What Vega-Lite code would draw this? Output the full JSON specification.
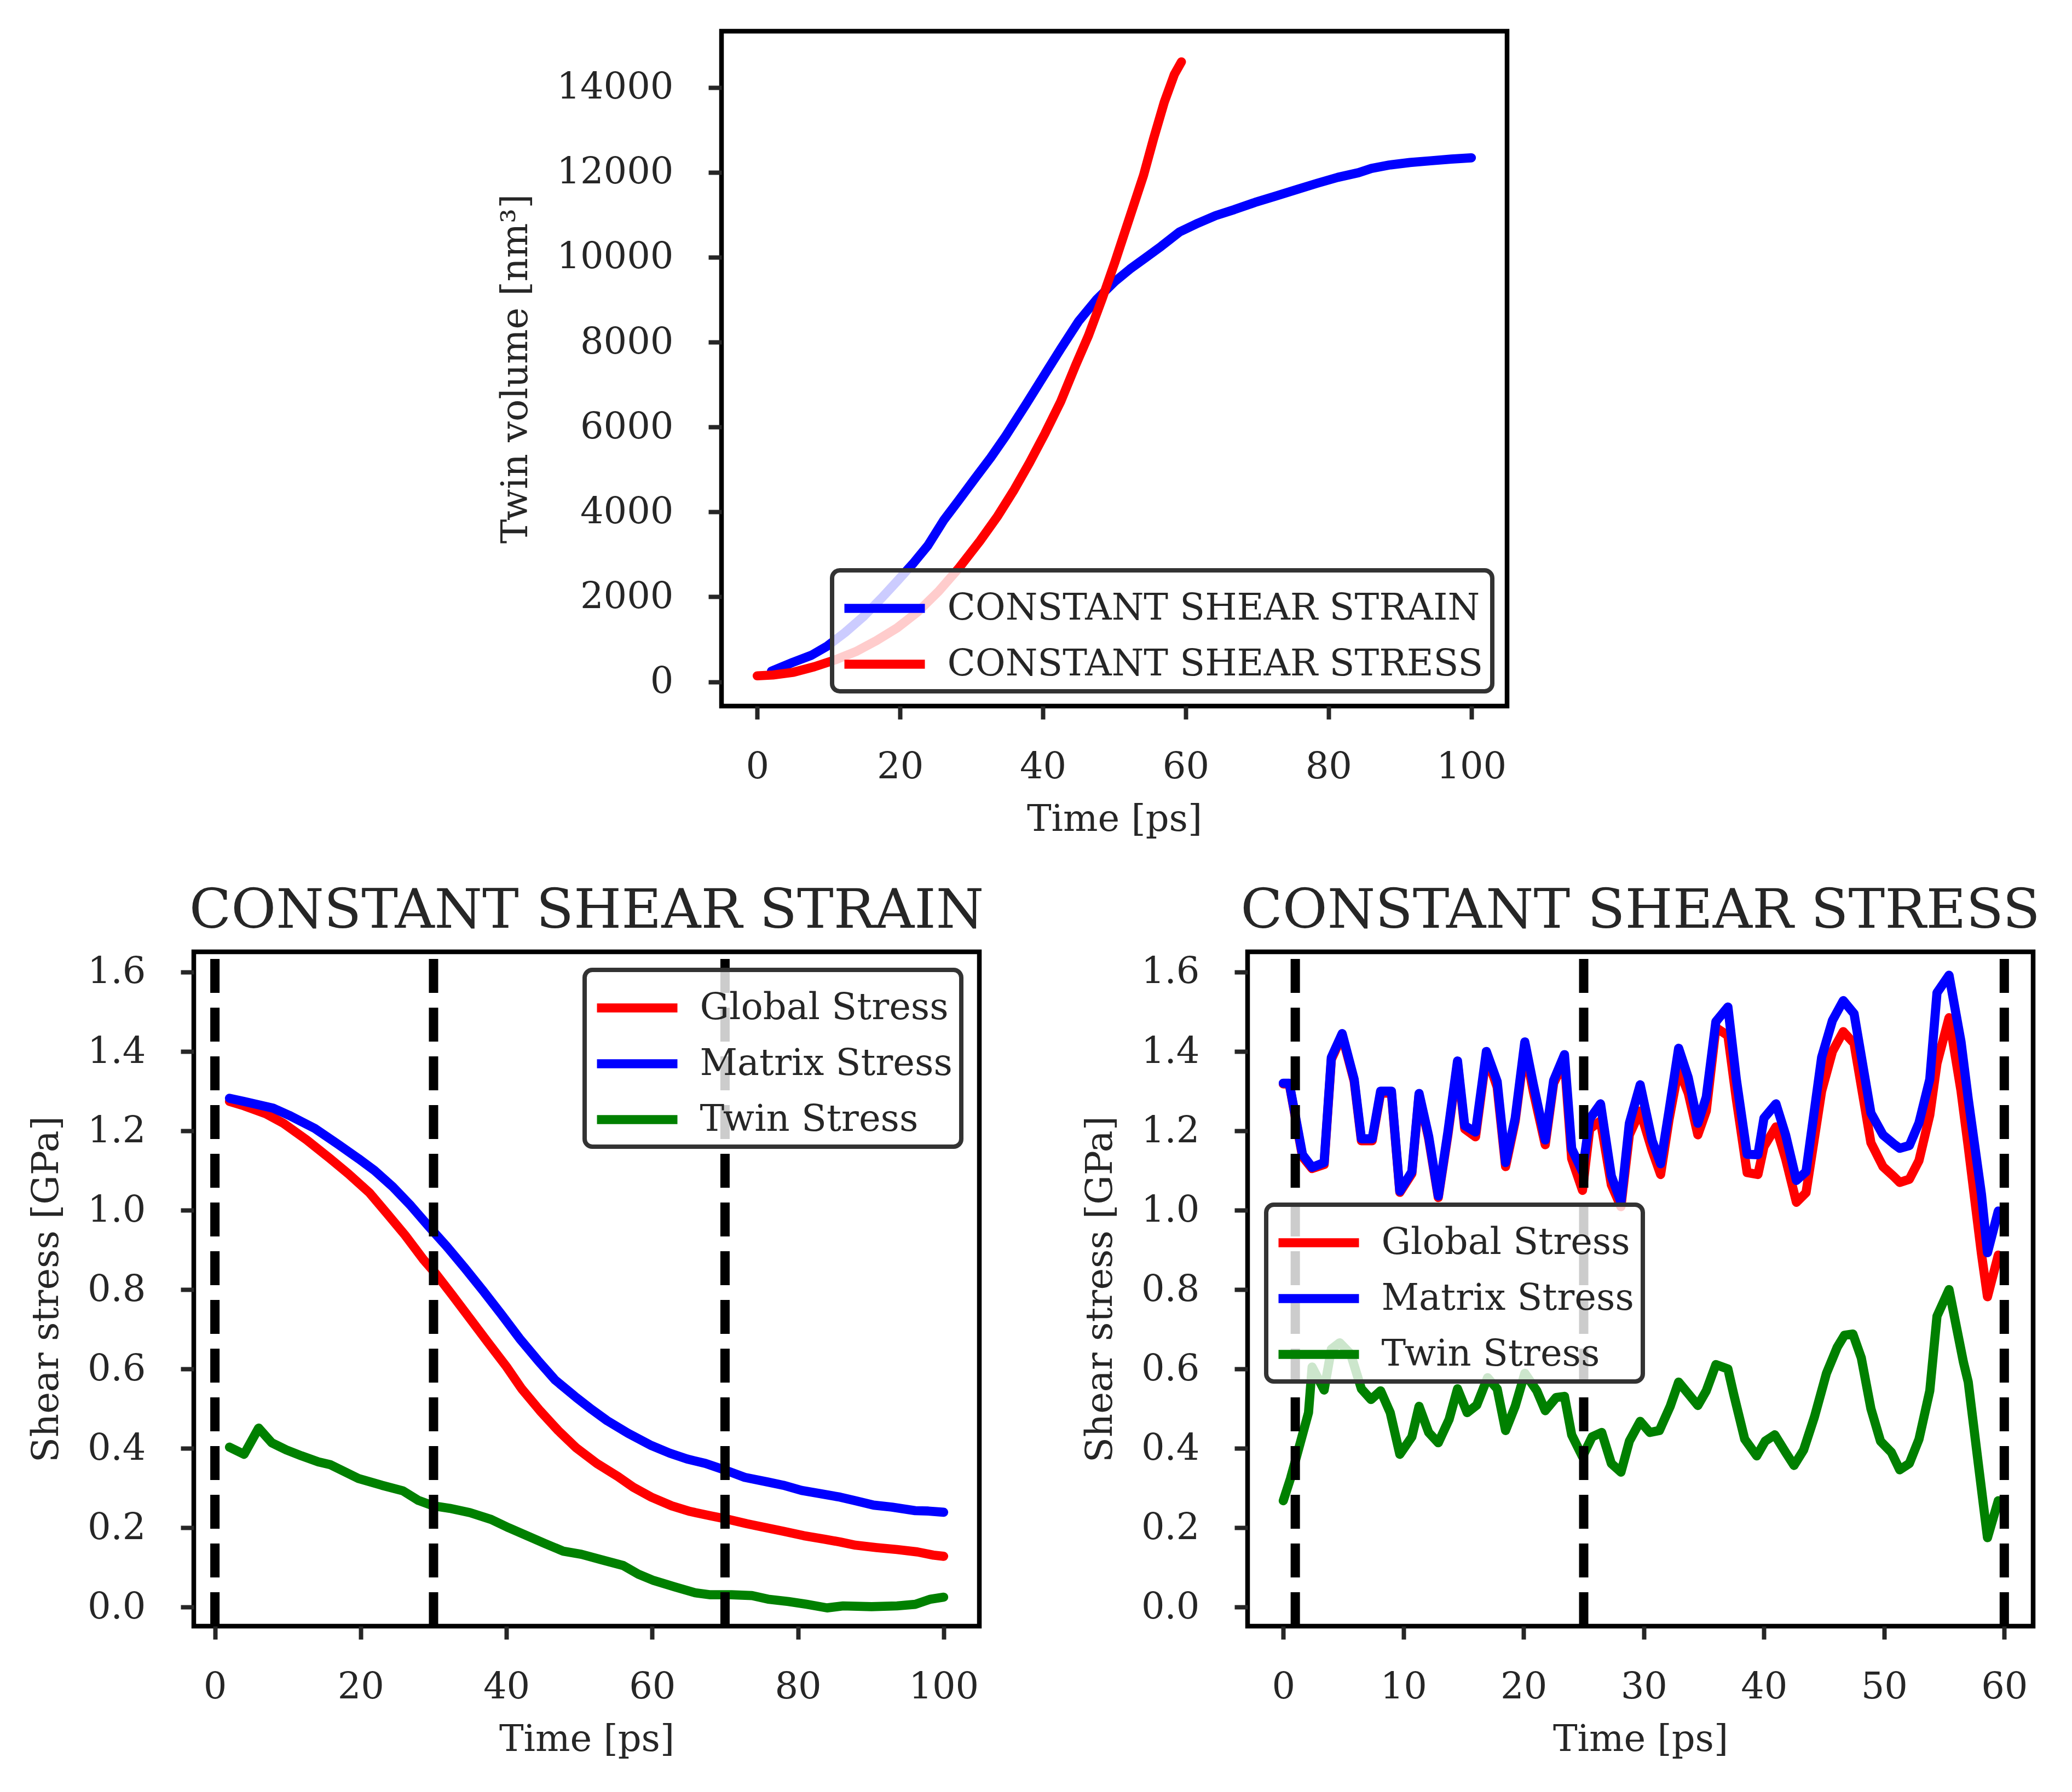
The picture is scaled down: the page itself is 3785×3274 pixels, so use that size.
{
  "$schema": "https://vega.github.io/schema/vega-lite/v6.json",
  "background": "white",
  "padding": {"left": 47, "top": 52, "right": 10, "bottom": 10},
  "config": {
    "font": "DejaVu Serif",
    "view": {"stroke": "black", "strokeWidth": 8.5},
    "axis": {
      "domain": false, "grid": false, "ticks": true,
      "tickSize": 24, "tickWidth": 8, "tickColor": "#262626",
      "labelFont": "DejaVu Serif", "labelFontSize": 67, "labelColor": "#262626", "labelLimit": 1000,
      "titleFont": "DejaVu Serif", "titleFontSize": 67, "titleFontWeight": "normal", "titleColor": "#262626",
      "labelFlush": false, "labelOverlap": false, "labelBound": false, "maxExtent": 2000, "minExtent": 0
    },
    "axisX": {"labelPadding": 54, "titlePadding": 30},
    "axisY": {"labelPadding": 64, "titlePadding": 40},
    "title": {"font": "DejaVu Serif", "fontSize": 100, "fontWeight": "normal", "color": "#262626", "baseline": "alphabetic", "offset": 15, "anchor": "middle"},
    "legend": {
      "labelFont": "DejaVu Serif", "labelFontSize": 67, "labelColor": "#262626", "labelLimit": 3000,
      "symbolType": "M-1.633,0H1.633", "symbolSize": 8100, "symbolStrokeWidth": 16.7, "symbolOffset": 26.5,
      "labelOffset": 61, "rowPadding": 15, "padding": 16,
      "strokeColor": "#333333", "strokeWidth": 8, "cornerRadius": 14, "fillColor": "rgba(255,255,255,0.8)"
    }
  },
  "datasets": {
    "top": [
      {"t":2,"v":250,"s":"CONSTANT SHEAR STRAIN"},{"t":5,"v":460,"s":"CONSTANT SHEAR STRAIN"},{"t":7.6,"v":625,"s":"CONSTANT SHEAR STRAIN"},{"t":9.8,"v":840,"s":"CONSTANT SHEAR STRAIN"},{"t":12.3,"v":1160,"s":"CONSTANT SHEAR STRAIN"},{"t":14.9,"v":1540,"s":"CONSTANT SHEAR STRAIN"},{"t":17.4,"v":1970,"s":"CONSTANT SHEAR STRAIN"},{"t":19.6,"v":2370,"s":"CONSTANT SHEAR STRAIN"},{"t":21.8,"v":2780,"s":"CONSTANT SHEAR STRAIN"},{"t":23.9,"v":3210,"s":"CONSTANT SHEAR STRAIN"},{"t":26.1,"v":3800,"s":"CONSTANT SHEAR STRAIN"},{"t":28.3,"v":4290,"s":"CONSTANT SHEAR STRAIN"},{"t":30.5,"v":4790,"s":"CONSTANT SHEAR STRAIN"},{"t":32.7,"v":5280,"s":"CONSTANT SHEAR STRAIN"},{"t":34.8,"v":5790,"s":"CONSTANT SHEAR STRAIN"},{"t":37.7,"v":6550,"s":"CONSTANT SHEAR STRAIN"},{"t":40.3,"v":7250,"s":"CONSTANT SHEAR STRAIN"},{"t":42.5,"v":7840,"s":"CONSTANT SHEAR STRAIN"},{"t":45,"v":8490,"s":"CONSTANT SHEAR STRAIN"},{"t":47.5,"v":9000,"s":"CONSTANT SHEAR STRAIN"},{"t":50.1,"v":9430,"s":"CONSTANT SHEAR STRAIN"},{"t":52.2,"v":9720,"s":"CONSTANT SHEAR STRAIN"},{"t":54.4,"v":9990,"s":"CONSTANT SHEAR STRAIN"},{"t":56.6,"v":10260,"s":"CONSTANT SHEAR STRAIN"},{"t":59.1,"v":10590,"s":"CONSTANT SHEAR STRAIN"},{"t":61.7,"v":10800,"s":"CONSTANT SHEAR STRAIN"},{"t":64.2,"v":10980,"s":"CONSTANT SHEAR STRAIN"},{"t":66.8,"v":11120,"s":"CONSTANT SHEAR STRAIN"},{"t":69.7,"v":11290,"s":"CONSTANT SHEAR STRAIN"},{"t":72.6,"v":11440,"s":"CONSTANT SHEAR STRAIN"},{"t":75.5,"v":11590,"s":"CONSTANT SHEAR STRAIN"},{"t":78.4,"v":11740,"s":"CONSTANT SHEAR STRAIN"},{"t":81.3,"v":11880,"s":"CONSTANT SHEAR STRAIN"},{"t":84.2,"v":11990,"s":"CONSTANT SHEAR STRAIN"},{"t":86,"v":12090,"s":"CONSTANT SHEAR STRAIN"},{"t":88.5,"v":12170,"s":"CONSTANT SHEAR STRAIN"},{"t":91.4,"v":12230,"s":"CONSTANT SHEAR STRAIN"},{"t":94.3,"v":12270,"s":"CONSTANT SHEAR STRAIN"},{"t":97.2,"v":12310,"s":"CONSTANT SHEAR STRAIN"},{"t":100,"v":12340,"s":"CONSTANT SHEAR STRAIN"},
      {"t":0,"v":140,"s":"CONSTANT SHEAR STRESS"},{"t":2.2,"v":160,"s":"CONSTANT SHEAR STRESS"},{"t":5.1,"v":225,"s":"CONSTANT SHEAR STRESS"},{"t":8,"v":355,"s":"CONSTANT SHEAR STRESS"},{"t":10.9,"v":515,"s":"CONSTANT SHEAR STRESS"},{"t":13.8,"v":710,"s":"CONSTANT SHEAR STRESS"},{"t":16.7,"v":970,"s":"CONSTANT SHEAR STRESS"},{"t":19.6,"v":1270,"s":"CONSTANT SHEAR STRESS"},{"t":22.5,"v":1650,"s":"CONSTANT SHEAR STRESS"},{"t":25.4,"v":2130,"s":"CONSTANT SHEAR STRESS"},{"t":28.3,"v":2690,"s":"CONSTANT SHEAR STRESS"},{"t":31.2,"v":3320,"s":"CONSTANT SHEAR STRESS"},{"t":33.7,"v":3910,"s":"CONSTANT SHEAR STRESS"},{"t":35.9,"v":4500,"s":"CONSTANT SHEAR STRESS"},{"t":38.1,"v":5150,"s":"CONSTANT SHEAR STRESS"},{"t":40.3,"v":5850,"s":"CONSTANT SHEAR STRESS"},{"t":42.5,"v":6600,"s":"CONSTANT SHEAR STRESS"},{"t":44.6,"v":7460,"s":"CONSTANT SHEAR STRESS"},{"t":46.4,"v":8160,"s":"CONSTANT SHEAR STRESS"},{"t":48.3,"v":9020,"s":"CONSTANT SHEAR STRESS"},{"t":50.1,"v":9890,"s":"CONSTANT SHEAR STRESS"},{"t":52.2,"v":10960,"s":"CONSTANT SHEAR STRESS"},{"t":54.1,"v":11930,"s":"CONSTANT SHEAR STRESS"},{"t":55.5,"v":12790,"s":"CONSTANT SHEAR STRESS"},{"t":57,"v":13650,"s":"CONSTANT SHEAR STRESS"},{"t":58.4,"v":14300,"s":"CONSTANT SHEAR STRESS"},{"t":59.4,"v":14600,"s":"CONSTANT SHEAR STRESS"}
    ],
    "left": [
      {"t":2,"v":1.274,"s":"Global Stress"},{"t":4,"v":1.263,"s":"Global Stress"},{"t":7,"v":1.243,"s":"Global Stress"},{"t":9.4,"v":1.219,"s":"Global Stress"},{"t":12.6,"v":1.177,"s":"Global Stress"},{"t":15.8,"v":1.13,"s":"Global Stress"},{"t":18.3,"v":1.092,"s":"Global Stress"},{"t":21.2,"v":1.044,"s":"Global Stress"},{"t":23.6,"v":0.992,"s":"Global Stress"},{"t":26.1,"v":0.937,"s":"Global Stress"},{"t":28.6,"v":0.876,"s":"Global Stress"},{"t":30.4,"v":0.838,"s":"Global Stress"},{"t":32.5,"v":0.788,"s":"Global Stress"},{"t":35,"v":0.727,"s":"Global Stress"},{"t":37.5,"v":0.666,"s":"Global Stress"},{"t":40,"v":0.606,"s":"Global Stress"},{"t":42.1,"v":0.55,"s":"Global Stress"},{"t":44.6,"v":0.495,"s":"Global Stress"},{"t":47.1,"v":0.445,"s":"Global Stress"},{"t":49.6,"v":0.401,"s":"Global Stress"},{"t":52.4,"v":0.362,"s":"Global Stress"},{"t":55.3,"v":0.329,"s":"Global Stress"},{"t":57.4,"v":0.302,"s":"Global Stress"},{"t":59.9,"v":0.277,"s":"Global Stress"},{"t":62.7,"v":0.255,"s":"Global Stress"},{"t":65.2,"v":0.241,"s":"Global Stress"},{"t":68,"v":0.23,"s":"Global Stress"},{"t":70.2,"v":0.222,"s":"Global Stress"},{"t":73,"v":0.21,"s":"Global Stress"},{"t":75.9,"v":0.199,"s":"Global Stress"},{"t":78,"v":0.191,"s":"Global Stress"},{"t":80.8,"v":0.18,"s":"Global Stress"},{"t":83.7,"v":0.171,"s":"Global Stress"},{"t":85.8,"v":0.164,"s":"Global Stress"},{"t":87.9,"v":0.156,"s":"Global Stress"},{"t":90.8,"v":0.15,"s":"Global Stress"},{"t":93.6,"v":0.145,"s":"Global Stress"},{"t":96.4,"v":0.139,"s":"Global Stress"},{"t":98.6,"v":0.131,"s":"Global Stress"},{"t":100,"v":0.128,"s":"Global Stress"},
      {"t":2,"v":1.282,"s":"Matrix Stress"},{"t":4,"v":1.274,"s":"Matrix Stress"},{"t":8,"v":1.257,"s":"Matrix Stress"},{"t":10.2,"v":1.239,"s":"Matrix Stress"},{"t":13.7,"v":1.206,"s":"Matrix Stress"},{"t":16.9,"v":1.166,"s":"Matrix Stress"},{"t":19.7,"v":1.13,"s":"Matrix Stress"},{"t":21.9,"v":1.1,"s":"Matrix Stress"},{"t":24.4,"v":1.059,"s":"Matrix Stress"},{"t":26.9,"v":1.011,"s":"Matrix Stress"},{"t":29.3,"v":0.96,"s":"Matrix Stress"},{"t":31.8,"v":0.909,"s":"Matrix Stress"},{"t":34.3,"v":0.854,"s":"Matrix Stress"},{"t":36.8,"v":0.797,"s":"Matrix Stress"},{"t":39.3,"v":0.738,"s":"Matrix Stress"},{"t":41.8,"v":0.677,"s":"Matrix Stress"},{"t":44.3,"v":0.622,"s":"Matrix Stress"},{"t":46.7,"v":0.572,"s":"Matrix Stress"},{"t":49.6,"v":0.528,"s":"Matrix Stress"},{"t":51.7,"v":0.498,"s":"Matrix Stress"},{"t":53.8,"v":0.47,"s":"Matrix Stress"},{"t":56.7,"v":0.438,"s":"Matrix Stress"},{"t":59.9,"v":0.407,"s":"Matrix Stress"},{"t":62.4,"v":0.388,"s":"Matrix Stress"},{"t":64.8,"v":0.373,"s":"Matrix Stress"},{"t":67.3,"v":0.362,"s":"Matrix Stress"},{"t":70.2,"v":0.344,"s":"Matrix Stress"},{"t":72.7,"v":0.327,"s":"Matrix Stress"},{"t":75.9,"v":0.315,"s":"Matrix Stress"},{"t":78,"v":0.307,"s":"Matrix Stress"},{"t":80.5,"v":0.294,"s":"Matrix Stress"},{"t":83,"v":0.286,"s":"Matrix Stress"},{"t":85.8,"v":0.277,"s":"Matrix Stress"},{"t":87.9,"v":0.268,"s":"Matrix Stress"},{"t":90.4,"v":0.257,"s":"Matrix Stress"},{"t":92.9,"v":0.252,"s":"Matrix Stress"},{"t":96.1,"v":0.243,"s":"Matrix Stress"},{"t":97.9,"v":0.242,"s":"Matrix Stress"},{"t":100,"v":0.239,"s":"Matrix Stress"},
      {"t":2,"v":0.403,"s":"Twin Stress"},{"t":4,"v":0.385,"s":"Twin Stress"},{"t":6,"v":0.451,"s":"Twin Stress"},{"t":7.8,"v":0.414,"s":"Twin Stress"},{"t":9.8,"v":0.396,"s":"Twin Stress"},{"t":11.9,"v":0.381,"s":"Twin Stress"},{"t":14.2,"v":0.366,"s":"Twin Stress"},{"t":15.8,"v":0.359,"s":"Twin Stress"},{"t":19.7,"v":0.324,"s":"Twin Stress"},{"t":22.9,"v":0.307,"s":"Twin Stress"},{"t":25.8,"v":0.293,"s":"Twin Stress"},{"t":27.9,"v":0.269,"s":"Twin Stress"},{"t":30,"v":0.255,"s":"Twin Stress"},{"t":32.2,"v":0.249,"s":"Twin Stress"},{"t":35,"v":0.238,"s":"Twin Stress"},{"t":37.9,"v":0.221,"s":"Twin Stress"},{"t":40.3,"v":0.2,"s":"Twin Stress"},{"t":42.8,"v":0.18,"s":"Twin Stress"},{"t":45.3,"v":0.16,"s":"Twin Stress"},{"t":47.8,"v":0.141,"s":"Twin Stress"},{"t":50.3,"v":0.133,"s":"Twin Stress"},{"t":53.1,"v":0.119,"s":"Twin Stress"},{"t":56,"v":0.105,"s":"Twin Stress"},{"t":58.1,"v":0.083,"s":"Twin Stress"},{"t":60.2,"v":0.067,"s":"Twin Stress"},{"t":63.1,"v":0.051,"s":"Twin Stress"},{"t":65.9,"v":0.036,"s":"Twin Stress"},{"t":68,"v":0.031,"s":"Twin Stress"},{"t":70.9,"v":0.031,"s":"Twin Stress"},{"t":73.7,"v":0.029,"s":"Twin Stress"},{"t":75.9,"v":0.02,"s":"Twin Stress"},{"t":78.7,"v":0.014,"s":"Twin Stress"},{"t":81.2,"v":0.007,"s":"Twin Stress"},{"t":84,"v":-0.002,"s":"Twin Stress"},{"t":86.2,"v":0.003,"s":"Twin Stress"},{"t":90.1,"v":0.001,"s":"Twin Stress"},{"t":93.6,"v":0.003,"s":"Twin Stress"},{"t":96.1,"v":0.007,"s":"Twin Stress"},{"t":98.2,"v":0.02,"s":"Twin Stress"},{"t":100,"v":0.025,"s":"Twin Stress"}
    ],
    "right": [
      {"t":0,"v":1.318,"s":"Global Stress"},{"t":0.5,"v":1.318,"s":"Global Stress"},{"t":1.6,"v":1.135,"s":"Global Stress"},{"t":2.4,"v":1.105,"s":"Global Stress"},{"t":3.4,"v":1.115,"s":"Global Stress"},{"t":4.0,"v":1.38,"s":"Global Stress"},{"t":4.9,"v":1.44,"s":"Global Stress"},{"t":5.9,"v":1.325,"s":"Global Stress"},{"t":6.5,"v":1.175,"s":"Global Stress"},{"t":7.4,"v":1.175,"s":"Global Stress"},{"t":8.1,"v":1.295,"s":"Global Stress"},{"t":9.0,"v":1.295,"s":"Global Stress"},{"t":9.7,"v":1.045,"s":"Global Stress"},{"t":10.7,"v":1.092,"s":"Global Stress"},{"t":11.3,"v":1.29,"s":"Global Stress"},{"t":12.1,"v":1.18,"s":"Global Stress"},{"t":12.9,"v":1.032,"s":"Global Stress"},{"t":13.7,"v":1.19,"s":"Global Stress"},{"t":14.5,"v":1.37,"s":"Global Stress"},{"t":15.1,"v":1.205,"s":"Global Stress"},{"t":16.0,"v":1.185,"s":"Global Stress"},{"t":16.9,"v":1.39,"s":"Global Stress"},{"t":17.8,"v":1.31,"s":"Global Stress"},{"t":18.5,"v":1.11,"s":"Global Stress"},{"t":19.3,"v":1.225,"s":"Global Stress"},{"t":20.1,"v":1.41,"s":"Global Stress"},{"t":20.8,"v":1.3,"s":"Global Stress"},{"t":21.8,"v":1.165,"s":"Global Stress"},{"t":22.5,"v":1.32,"s":"Global Stress"},{"t":23.4,"v":1.375,"s":"Global Stress"},{"t":24.0,"v":1.13,"s":"Global Stress"},{"t":24.9,"v":1.05,"s":"Global Stress"},{"t":25.5,"v":1.205,"s":"Global Stress"},{"t":26.4,"v":1.225,"s":"Global Stress"},{"t":27.3,"v":1.064,"s":"Global Stress"},{"t":28.1,"v":1.009,"s":"Global Stress"},{"t":28.8,"v":1.19,"s":"Global Stress"},{"t":29.7,"v":1.25,"s":"Global Stress"},{"t":30.7,"v":1.15,"s":"Global Stress"},{"t":31.4,"v":1.09,"s":"Global Stress"},{"t":32.1,"v":1.228,"s":"Global Stress"},{"t":32.9,"v":1.357,"s":"Global Stress"},{"t":33.7,"v":1.295,"s":"Global Stress"},{"t":34.5,"v":1.19,"s":"Global Stress"},{"t":35.2,"v":1.25,"s":"Global Stress"},{"t":36.0,"v":1.46,"s":"Global Stress"},{"t":37.0,"v":1.44,"s":"Global Stress"},{"t":37.7,"v":1.28,"s":"Global Stress"},{"t":38.6,"v":1.095,"s":"Global Stress"},{"t":39.5,"v":1.09,"s":"Global Stress"},{"t":40.0,"v":1.16,"s":"Global Stress"},{"t":41.0,"v":1.21,"s":"Global Stress"},{"t":41.8,"v":1.13,"s":"Global Stress"},{"t":42.7,"v":1.02,"s":"Global Stress"},{"t":43.5,"v":1.044,"s":"Global Stress"},{"t":44.8,"v":1.3,"s":"Global Stress"},{"t":45.7,"v":1.4,"s":"Global Stress"},{"t":46.6,"v":1.45,"s":"Global Stress"},{"t":47.5,"v":1.42,"s":"Global Stress"},{"t":48.9,"v":1.17,"s":"Global Stress"},{"t":49.9,"v":1.11,"s":"Global Stress"},{"t":50.8,"v":1.085,"s":"Global Stress"},{"t":51.3,"v":1.07,"s":"Global Stress"},{"t":52.1,"v":1.078,"s":"Global Stress"},{"t":52.9,"v":1.125,"s":"Global Stress"},{"t":53.8,"v":1.24,"s":"Global Stress"},{"t":54.4,"v":1.37,"s":"Global Stress"},{"t":55.4,"v":1.485,"s":"Global Stress"},{"t":56.4,"v":1.3,"s":"Global Stress"},{"t":57.0,"v":1.16,"s":"Global Stress"},{"t":58.1,"v":0.89,"s":"Global Stress"},{"t":58.6,"v":0.782,"s":"Global Stress"},{"t":59.5,"v":0.887,"s":"Global Stress"},
      {"t":0,"v":1.32,"s":"Matrix Stress"},{"t":0.5,"v":1.32,"s":"Matrix Stress"},{"t":1.6,"v":1.14,"s":"Matrix Stress"},{"t":2.4,"v":1.108,"s":"Matrix Stress"},{"t":3.4,"v":1.12,"s":"Matrix Stress"},{"t":4.0,"v":1.385,"s":"Matrix Stress"},{"t":4.9,"v":1.445,"s":"Matrix Stress"},{"t":5.9,"v":1.33,"s":"Matrix Stress"},{"t":6.5,"v":1.18,"s":"Matrix Stress"},{"t":7.4,"v":1.18,"s":"Matrix Stress"},{"t":8.1,"v":1.3,"s":"Matrix Stress"},{"t":9.0,"v":1.3,"s":"Matrix Stress"},{"t":9.7,"v":1.048,"s":"Matrix Stress"},{"t":10.7,"v":1.097,"s":"Matrix Stress"},{"t":11.3,"v":1.294,"s":"Matrix Stress"},{"t":12.1,"v":1.186,"s":"Matrix Stress"},{"t":12.9,"v":1.036,"s":"Matrix Stress"},{"t":13.7,"v":1.197,"s":"Matrix Stress"},{"t":14.5,"v":1.376,"s":"Matrix Stress"},{"t":15.1,"v":1.213,"s":"Matrix Stress"},{"t":16.0,"v":1.197,"s":"Matrix Stress"},{"t":16.9,"v":1.4,"s":"Matrix Stress"},{"t":17.8,"v":1.324,"s":"Matrix Stress"},{"t":18.5,"v":1.12,"s":"Matrix Stress"},{"t":19.3,"v":1.232,"s":"Matrix Stress"},{"t":20.1,"v":1.424,"s":"Matrix Stress"},{"t":20.8,"v":1.318,"s":"Matrix Stress"},{"t":21.8,"v":1.177,"s":"Matrix Stress"},{"t":22.5,"v":1.327,"s":"Matrix Stress"},{"t":23.4,"v":1.392,"s":"Matrix Stress"},{"t":24.0,"v":1.155,"s":"Matrix Stress"},{"t":24.9,"v":1.097,"s":"Matrix Stress"},{"t":25.5,"v":1.23,"s":"Matrix Stress"},{"t":26.4,"v":1.268,"s":"Matrix Stress"},{"t":27.3,"v":1.086,"s":"Matrix Stress"},{"t":28.1,"v":1.02,"s":"Matrix Stress"},{"t":28.8,"v":1.219,"s":"Matrix Stress"},{"t":29.7,"v":1.316,"s":"Matrix Stress"},{"t":30.7,"v":1.175,"s":"Matrix Stress"},{"t":31.4,"v":1.117,"s":"Matrix Stress"},{"t":32.1,"v":1.25,"s":"Matrix Stress"},{"t":32.9,"v":1.408,"s":"Matrix Stress"},{"t":33.7,"v":1.334,"s":"Matrix Stress"},{"t":34.5,"v":1.219,"s":"Matrix Stress"},{"t":35.2,"v":1.285,"s":"Matrix Stress"},{"t":36.0,"v":1.475,"s":"Matrix Stress"},{"t":37.0,"v":1.512,"s":"Matrix Stress"},{"t":37.7,"v":1.33,"s":"Matrix Stress"},{"t":38.6,"v":1.141,"s":"Matrix Stress"},{"t":39.5,"v":1.14,"s":"Matrix Stress"},{"t":40.0,"v":1.232,"s":"Matrix Stress"},{"t":41.0,"v":1.268,"s":"Matrix Stress"},{"t":41.8,"v":1.19,"s":"Matrix Stress"},{"t":42.7,"v":1.075,"s":"Matrix Stress"},{"t":43.5,"v":1.097,"s":"Matrix Stress"},{"t":44.8,"v":1.385,"s":"Matrix Stress"},{"t":45.7,"v":1.478,"s":"Matrix Stress"},{"t":46.6,"v":1.528,"s":"Matrix Stress"},{"t":47.5,"v":1.495,"s":"Matrix Stress"},{"t":48.9,"v":1.245,"s":"Matrix Stress"},{"t":49.9,"v":1.19,"s":"Matrix Stress"},{"t":50.8,"v":1.167,"s":"Matrix Stress"},{"t":51.3,"v":1.156,"s":"Matrix Stress"},{"t":52.1,"v":1.163,"s":"Matrix Stress"},{"t":52.9,"v":1.22,"s":"Matrix Stress"},{"t":53.8,"v":1.33,"s":"Matrix Stress"},{"t":54.4,"v":1.548,"s":"Matrix Stress"},{"t":55.4,"v":1.592,"s":"Matrix Stress"},{"t":56.4,"v":1.424,"s":"Matrix Stress"},{"t":57.0,"v":1.28,"s":"Matrix Stress"},{"t":58.1,"v":1.04,"s":"Matrix Stress"},{"t":58.6,"v":0.893,"s":"Matrix Stress"},{"t":59.5,"v":0.998,"s":"Matrix Stress"},
      {"t":0,"v":0.268,"s":"Twin Stress"},{"t":0.6,"v":0.324,"s":"Twin Stress"},{"t":1.2,"v":0.39,"s":"Twin Stress"},{"t":2.1,"v":0.49,"s":"Twin Stress"},{"t":2.4,"v":0.605,"s":"Twin Stress"},{"t":3.4,"v":0.547,"s":"Twin Stress"},{"t":4.0,"v":0.65,"s":"Twin Stress"},{"t":4.7,"v":0.666,"s":"Twin Stress"},{"t":5.6,"v":0.638,"s":"Twin Stress"},{"t":6.5,"v":0.55,"s":"Twin Stress"},{"t":7.3,"v":0.523,"s":"Twin Stress"},{"t":8.1,"v":0.545,"s":"Twin Stress"},{"t":8.9,"v":0.49,"s":"Twin Stress"},{"t":9.7,"v":0.385,"s":"Twin Stress"},{"t":10.7,"v":0.429,"s":"Twin Stress"},{"t":11.3,"v":0.506,"s":"Twin Stress"},{"t":12.1,"v":0.44,"s":"Twin Stress"},{"t":12.9,"v":0.414,"s":"Twin Stress"},{"t":13.8,"v":0.473,"s":"Twin Stress"},{"t":14.5,"v":0.55,"s":"Twin Stress"},{"t":15.3,"v":0.49,"s":"Twin Stress"},{"t":16.1,"v":0.509,"s":"Twin Stress"},{"t":17.0,"v":0.578,"s":"Twin Stress"},{"t":17.8,"v":0.55,"s":"Twin Stress"},{"t":18.5,"v":0.445,"s":"Twin Stress"},{"t":19.3,"v":0.506,"s":"Twin Stress"},{"t":20.1,"v":0.589,"s":"Twin Stress"},{"t":21.1,"v":0.545,"s":"Twin Stress"},{"t":21.8,"v":0.495,"s":"Twin Stress"},{"t":22.7,"v":0.528,"s":"Twin Stress"},{"t":23.4,"v":0.531,"s":"Twin Stress"},{"t":24.0,"v":0.434,"s":"Twin Stress"},{"t":24.9,"v":0.379,"s":"Twin Stress"},{"t":25.7,"v":0.429,"s":"Twin Stress"},{"t":26.5,"v":0.44,"s":"Twin Stress"},{"t":27.3,"v":0.362,"s":"Twin Stress"},{"t":28.1,"v":0.34,"s":"Twin Stress"},{"t":28.8,"v":0.418,"s":"Twin Stress"},{"t":29.7,"v":0.468,"s":"Twin Stress"},{"t":30.5,"v":0.44,"s":"Twin Stress"},{"t":31.3,"v":0.445,"s":"Twin Stress"},{"t":32.2,"v":0.506,"s":"Twin Stress"},{"t":32.9,"v":0.567,"s":"Twin Stress"},{"t":33.8,"v":0.534,"s":"Twin Stress"},{"t":34.5,"v":0.508,"s":"Twin Stress"},{"t":35.2,"v":0.545,"s":"Twin Stress"},{"t":36.0,"v":0.611,"s":"Twin Stress"},{"t":37.0,"v":0.6,"s":"Twin Stress"},{"t":37.5,"v":0.534,"s":"Twin Stress"},{"t":38.4,"v":0.423,"s":"Twin Stress"},{"t":39.4,"v":0.381,"s":"Twin Stress"},{"t":40.1,"v":0.418,"s":"Twin Stress"},{"t":40.9,"v":0.434,"s":"Twin Stress"},{"t":41.8,"v":0.39,"s":"Twin Stress"},{"t":42.5,"v":0.357,"s":"Twin Stress"},{"t":43.3,"v":0.396,"s":"Twin Stress"},{"t":44.2,"v":0.479,"s":"Twin Stress"},{"t":45.2,"v":0.589,"s":"Twin Stress"},{"t":46.1,"v":0.655,"s":"Twin Stress"},{"t":46.7,"v":0.685,"s":"Twin Stress"},{"t":47.4,"v":0.688,"s":"Twin Stress"},{"t":48.1,"v":0.628,"s":"Twin Stress"},{"t":48.9,"v":0.5,"s":"Twin Stress"},{"t":49.7,"v":0.418,"s":"Twin Stress"},{"t":50.6,"v":0.39,"s":"Twin Stress"},{"t":51.3,"v":0.346,"s":"Twin Stress"},{"t":52.1,"v":0.362,"s":"Twin Stress"},{"t":52.9,"v":0.423,"s":"Twin Stress"},{"t":53.8,"v":0.545,"s":"Twin Stress"},{"t":54.4,"v":0.733,"s":"Twin Stress"},{"t":55.4,"v":0.8,"s":"Twin Stress"},{"t":56.6,"v":0.617,"s":"Twin Stress"},{"t":57.0,"v":0.567,"s":"Twin Stress"},{"t":57.9,"v":0.346,"s":"Twin Stress"},{"t":58.6,"v":0.175,"s":"Twin Stress"},{"t":59.5,"v":0.268,"s":"Twin Stress"}
    ],
    "vl": [{"t":0},{"t":30},{"t":70}],
    "vr": [{"t":1},{"t":25},{"t":60}]
  },
  "spacing": 75,
  "resolve": {"scale": {"color": "independent"}, "legend": {"color": "independent"}},
  "vconcat": [
    {
      "spacing": 0,
      "resolve": {"scale": {"color": "independent"}, "legend": {"color": "independent"}},
      "hconcat": [
        {
          "width": 550, "height": 10,
          "view": {"stroke": null},
          "data": {"values": []},
          "mark": "point",
          "encoding": {}
        },
        {
          "width": 1435, "height": 1233,
          "data": {"name": "top"},
          "mark": {"type": "line", "strokeWidth": 16.7, "strokeCap": "round", "strokeJoin": "round", "clip": true},
          "encoding": {
            "x": {"field": "t", "type": "quantitative", "scale": {"domain": [-5, 105], "nice": false, "zero": false}, "axis": {"title": "Time [ps]", "values": [0, 20, 40, 60, 80, 100]}},
            "y": {"field": "v", "type": "quantitative", "scale": {"domain": [-572, 15322], "nice": false, "zero": false}, "axis": {"title": "Twin volume [nm³]", "values": [0, 2000, 4000, 6000, 8000, 10000, 12000, 14000], "format": "d"}},
            "color": {"field": "s", "type": "nominal", "scale": {"domain": ["CONSTANT SHEAR STRAIN", "CONSTANT SHEAR STRESS"], "range": ["#0000ff", "#ff0000"]}, "legend": {"title": null, "orient": "bottom-right", "offset": 27}}
          }
        }
      ]
    },
    {
      "spacing": 170,
      "resolve": {"scale": {"color": "independent"}, "legend": {"color": "independent"}},
      "hconcat": [
        {
          "width": 1435, "height": 1232,
          "title": {"text": "CONSTANT SHEAR STRAIN"},
          "layer": [
            {
              "data": {"name": "left"},
              "mark": {"type": "line", "strokeWidth": 16.7, "strokeCap": "round", "strokeJoin": "round", "clip": true},
              "encoding": {
                "x": {"field": "t", "type": "quantitative", "scale": {"domain": [-2.9, 104.9], "nice": false, "zero": false}, "axis": {"title": "Time [ps]", "values": [0, 20, 40, 60, 80, 100]}},
                "y": {"field": "v", "type": "quantitative", "scale": {"domain": [-0.048, 1.651], "nice": false, "zero": false}, "axis": {"title": "Shear stress [GPa]", "values": [0, 0.2, 0.4, 0.6, 0.8, 1.0, 1.2, 1.4, 1.6], "format": ".1f"}},
                "color": {"field": "s", "type": "nominal", "scale": {"domain": ["Global Stress", "Matrix Stress", "Twin Stress"], "range": ["#ff0000", "#0000ff", "#008000"]}, "legend": {"title": null, "orient": "top-right", "offset": 33}}
              }
            },
            {
              "data": {"name": "vl"},
              "mark": {"type": "rule", "color": "black", "strokeWidth": 17, "strokeDash": [62, 27], "strokeDashOffset": 76},
              "encoding": {"x": {"field": "t", "type": "quantitative"}}
            }
          ]
        },
        {
          "width": 1435, "height": 1232,
          "title": {"text": "CONSTANT SHEAR STRESS"},
          "layer": [
            {
              "data": {"name": "right"},
              "mark": {"type": "line", "strokeWidth": 16.7, "strokeCap": "round", "strokeJoin": "round", "clip": true},
              "encoding": {
                "x": {"field": "t", "type": "quantitative", "scale": {"domain": [-2.97, 62.4], "nice": false, "zero": false}, "axis": {"title": "Time [ps]", "values": [0, 10, 20, 30, 40, 50, 60]}},
                "y": {"field": "v", "type": "quantitative", "scale": {"domain": [-0.048, 1.651], "nice": false, "zero": false}, "axis": {"title": "Shear stress [GPa]", "values": [0, 0.2, 0.4, 0.6, 0.8, 1.0, 1.2, 1.4, 1.6], "format": ".1f"}},
                "color": {"field": "s", "type": "nominal", "scale": {"domain": ["Global Stress", "Matrix Stress", "Twin Stress"], "range": ["#ff0000", "#0000ff", "#008000"]}, "legend": {"title": null, "orient": "none", "legendX": 34, "legendY": 462}}
              }
            },
            {
              "data": {"name": "vr"},
              "mark": {"type": "rule", "color": "black", "strokeWidth": 17, "strokeDash": [62, 27], "strokeDashOffset": 76},
              "encoding": {"x": {"field": "t", "type": "quantitative"}}
            }
          ]
        }
      ]
    }
  ]
}
